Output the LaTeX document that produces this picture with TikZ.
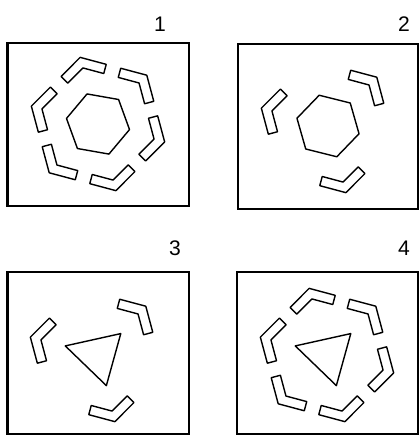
\documentclass[tikz,border=0pt]{standalone}
\usepackage{fontspec}
\setmainfont{Liberation Sans}
\tikzset{
	marco/.style={line width=1.5pt},
	forma/.style={line width=1pt, line join=round},
	numero/.style={font=\fontsize{15}{17}\selectfont, inner sep=0pt}
}
% pieza en forma de V: angulo desde el centro del panel
\newcommand{\pieza}[1]{%
	\draw[forma] (#1:69) -- ++(#1+120:27) -- ++(#1+210:9.5) -- ++(#1-60:21.5) -- ++(#1+240:21.5) -- ++(#1-30:9.5) -- cycle;}
\begin{document}
\begin{tikzpicture}[x=0.025cm, y=-0.025cm]
	\useasboundingbox (0,0) rectangle (419,437);
	%Marcos
	\draw[marco] (7.5,43) rectangle (189,206);
	\draw[marco] (238,44) rectangle (418,209);
	\draw[marco] (7.5,272) rectangle (189,434);
	\draw[marco] (237,272) rectangle (418,434);
	%Numeros
	\node[numero] (n1) at (160,24) {1};
	\node[numero] (n2) at (404,24) {2};
	\node[numero] (n3) at (175,248) {3};
	\node[numero] (n4) at (404,248) {4};
	%Panel 1: hexagono y seis piezas
	\begin{scope}[shift={(98,124)}]
		\draw[forma] (10:32) -- (70:32) -- (130:32) -- (190:32) -- (250:32) -- (310:32) -- cycle;
		\foreach \a in {15,75,...,315} {\pieza{\a}}
	\end{scope}
	%Panel 2: hexagono y tres piezas
	\begin{scope}[shift={(328,126)}]
		\draw[forma] (14:32) -- (74:32) -- (134:32) -- (194:32) -- (254:32) -- (314:32) -- cycle;
		\foreach \a in {75,195,315} {\pieza{\a}}
	\end{scope}
	%Panel 3: triangulo y tres piezas
	\begin{scope}[shift={(97,355)}]
		\draw[forma] (196:33) -- (318:32) -- (73:32) -- cycle;
		\foreach \a in {75,195,315} {\pieza{\a}}
	\end{scope}
	%Panel 4: triangulo y seis piezas
	\begin{scope}[shift={(327,355)}]
		\draw[forma] (196:33) -- (318:32) -- (73:32) -- cycle;
		\foreach \a in {15,75,...,315} {\pieza{\a}}
	\end{scope}
\end{tikzpicture}
\end{document}
